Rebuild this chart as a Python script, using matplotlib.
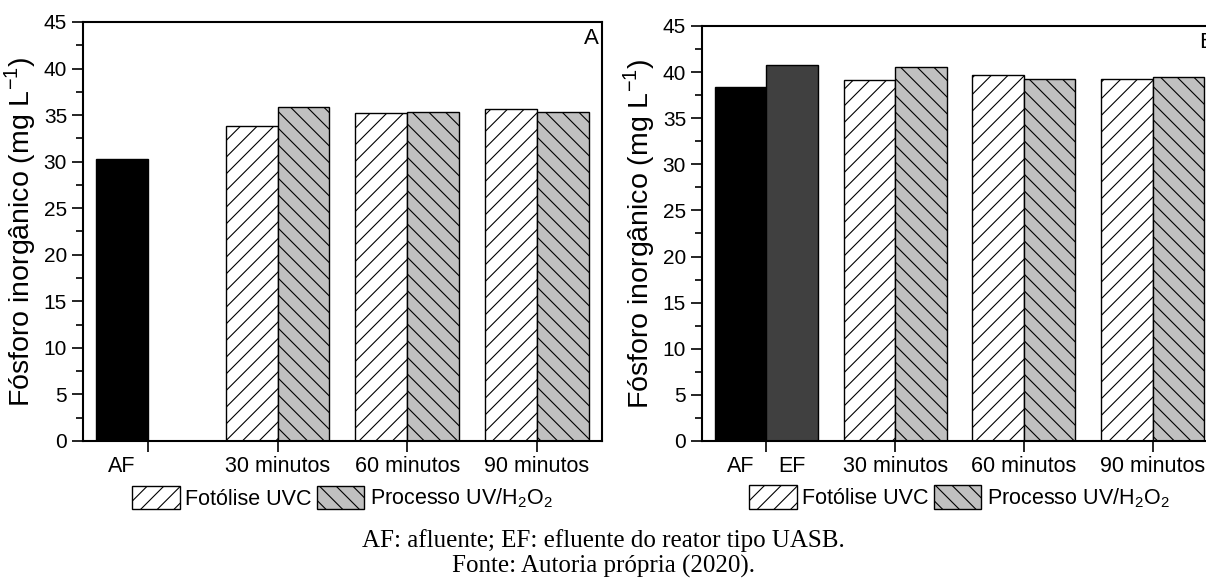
import matplotlib
matplotlib.use('Agg')
import matplotlib.pyplot as plt
from matplotlib.patches import Patch
from matplotlib.ticker import MultipleLocator
import numpy as np

plt.rcParams['font.family'] = ['Liberation Sans', 'DejaVu Sans']
plt.rcParams['hatch.linewidth'] = 0.8
plt.rcParams['mathtext.fontset'] = 'custom'
plt.rcParams['mathtext.rm'] = 'Liberation Sans'

# dados (mg L-1)
tempos = ['30 minutos', '60 minutos', '90 minutos']
afluente_A = 30.3
uvc_A = [33.8, 35.2, 35.7]
h2o2_A = [35.9, 35.3, 35.3]

afluente_B = 38.4
efluente_B = 40.8
uvc_B = [39.1, 39.7, 39.2]
h2o2_B = [40.5, 39.2, 39.5]

largura = 0.4
ylabel = 'Fósforo inorgânico (mg L$^{\\mathrm{-1}}$)'


def painel(ax, ref, uvc, h2o2, letra, efl=None):
    x = np.arange(1, len(tempos) + 1)
    ax.bar(-largura / 2, ref, largura, color='black', edgecolor='black', linewidth=1)
    rotulos_min = [-largura / 2]
    nomes_min = ['AF']
    if efl is not None:
        ax.bar(largura / 2, efl, largura, color='#404040', edgecolor='black', linewidth=1)
        rotulos_min.append(largura / 2)
        nomes_min.append('EF')
    ax.bar(x - largura / 2, uvc, largura, color='white', edgecolor='black',
           hatch='//', linewidth=1)
    ax.bar(x + largura / 2, h2o2, largura, color='#c0c0c0', edgecolor='black',
           hatch='\\\\', linewidth=1)

    ax.set_xlim(-0.5, 3.5)
    ax.set_ylim(0, 45)
    ax.set_xticks(np.arange(0, 4))
    ax.set_xticklabels([''] + tempos)
    ax.set_xticks(rotulos_min, minor=True)
    ax.set_xticklabels(nomes_min, minor=True)
    ax.tick_params(axis='x', which='minor', length=0, pad=11, labelsize=15.5)
    ax.tick_params(axis='x', which='major', length=8, width=1.2, pad=3, labelsize=15.5)
    ax.yaxis.set_major_locator(MultipleLocator(5))
    ax.yaxis.set_minor_locator(MultipleLocator(2.5))
    ax.tick_params(axis='y', which='major', length=8, width=1.2, labelsize=15)
    ax.tick_params(axis='y', which='minor', length=5, width=1.2)
    ax.tick_params(top=False, right=False)
    for s in ax.spines.values():
        s.set_linewidth(1.5)
    ax.set_ylabel(ylabel, fontsize=20.5, labelpad=4)
    ax.text(0.995, 0.96, letra, transform=ax.transAxes, ha='right', va='center',
            fontsize=16)

    handles = [Patch(facecolor='white', edgecolor='black', hatch='//', linewidth=1),
               Patch(facecolor='#c0c0c0', edgecolor='black', hatch='\\\\', linewidth=1)]
    ax.legend(handles, ['Fotólise UVC', 'Processo UV/H$_2$O$_2$'], ncol=2,
              loc='center', bbox_to_anchor=(0.5, -0.136), frameon=False,
              fontsize=15.5, handlelength=2.2, handleheight=1.3,
              handletextpad=0.25, columnspacing=0.25, borderaxespad=0)


fig = plt.figure(figsize=(12.06, 5.82), dpi=100)
axA = fig.add_axes([0.0688, 0.2423, 0.4303, 0.7199])
axB = fig.add_axes([0.5821, 0.2423, 0.4270, 0.7131])

painel(axA, afluente_A, uvc_A, h2o2_A, 'A')
painel(axB, afluente_B, uvc_B, h2o2_B, 'B', efl=efluente_B)

fig.text(0.5, 0.072, 'AF: afluente; EF: efluente do reator tipo UASB.',
         ha='center', va='center', fontsize=18, family='Liberation Serif')
fig.text(0.5, 0.027, 'Fonte: Autoria própria (2020).',
         ha='center', va='center', fontsize=18, family='Liberation Serif')

fig.savefig('out.png', dpi=100)
